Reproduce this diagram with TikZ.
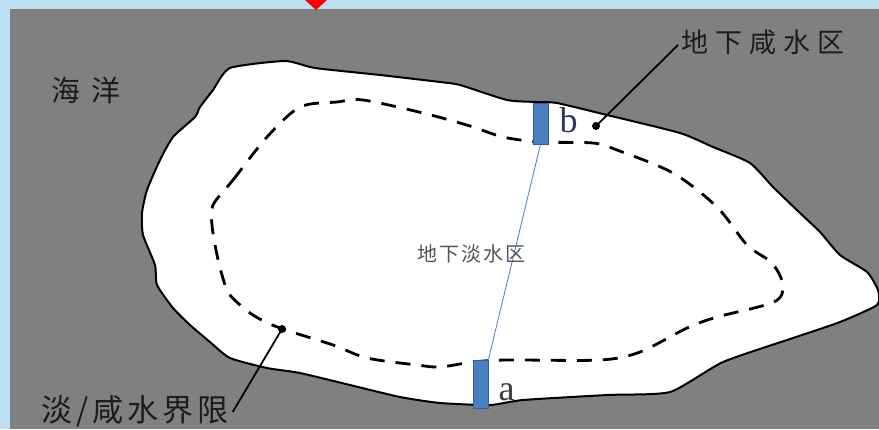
\documentclass[tikz,border=0pt]{standalone}
\usepackage{fontspec}
\setmainfont{Liberation Serif}
\newfontfamily\cjkfont{Noto Sans CJK SC}
\begin{document}
\begin{tikzpicture}[x=1pt,y=-1pt,
  coast/.style={line width=2pt, fill=white, line join=round},
  boundary/.style={line width=2.8pt, dash pattern=on 15pt off 11pt},
  wellbox/.style={draw=welledge, fill=wellblue, line width=0.8pt, minimum width=15pt, inner sep=0pt},
  dotmark/.style={circle, fill=black, inner sep=0pt, minimum size=8pt},
  cjklabel/.style={inner sep=0pt, anchor=west},
  wellname/.style={inner sep=0pt, anchor=base west, font=\fontsize{36}{36}\selectfont},
  leader/.style={line width=1.8pt}]
\definecolor{frameblue}{RGB}{189,224,243}
\definecolor{sea}{RGB}{128,128,128}
\definecolor{wellblue}{RGB}{74,126,193}
\definecolor{welledge}{RGB}{52,96,160}
\definecolor{labeldark}{RGB}{28,28,28}
\useasboundingbox (0,0) rectangle (879,429);
% frame and sea
\fill[frameblue] (0,0) rectangle (879,429);
\fill[sea] (10,9) rectangle (879,429);
\fill[red] (305,0) -- (327,0) -- (316,10) -- cycle;
% island coastline
\draw[coast] plot[smooth cycle, tension=0.35] coordinates {
  (230,68) (285,61) (315,68) (380,75) (440,82) (460,85) (507,100) (537,102)
  (557,103) (607,115) (680,133) (713,147) (750,163) (773,187) (800,213)
  (820,232) (840,255) (867,272) (878,290) (877,305) (840,322) (793,338)
  (723,362) (670,392) (607,395) (523,400) (490,405) (440,403) (400,397)
  (350,385) (300,373) (267,368) (230,358) (210,342) (190,325) (173,308)
  (157,285) (155,265) (143,235) (142,213) (147,190) (160,160) (173,137)
  (195,117) (200,107) (213,90)};
% fresh / salt water boundary
\draw[boundary] plot[smooth cycle, tension=0.5] coordinates {
  (213,205) (233,180) (267,137) (300,107) (337,102) (363,100) (423,113)
  (470,126) (503,137) (540,142) (593,143) (617,150) (673,173) (717,207)
  (747,245) (772,263) (783,285) (774,302) (717,317) (687,328) (640,352)
  (600,360) (507,360) (473,362) (440,367) (417,365) (367,358) (333,345)
  (280,328) (253,315) (230,295) (222,275) (216,250) (212,225)};
% wells and section line
\node[wellbox, minimum height=41pt] (wb) at (540.5,123.5) {};
\node[wellbox, minimum height=48pt] (wa) at (480.5,384) {};
\draw[wellblue, line width=0.8pt] (wb.south) -- (wa.north east);
\node[wellname, text={rgb,255:red,45;green,55;blue,90}] (lbb) at (559.5,132) {b};
\node[wellname, text={rgb,255:red,60;green,60;blue,60}] (lba) at (498.5,400) {a};
% labels
\node[cjklabel, text=labeldark, font={\cjkfont\fontsize{29}{29}\selectfont\addfontfeature{LetterSpace=40}}] (sealbl) at (51,90) {海洋};
\node[cjklabel, text=labeldark, font={\cjkfont\fontsize{27}{27}\selectfont\addfontfeature{LetterSpace=26}}] (salt) at (681,42) {地下咸水区};
\node[cjklabel, text={rgb,255:red,85;green,85;blue,85}, font={\cjkfont\fontsize{20}{20}\selectfont\addfontfeature{LetterSpace=10}}] (fresh) at (417,254) {地下淡水区};
\node[cjklabel, text=labeldark, font={\cjkfont\fontsize{31}{31}\selectfont\addfontfeature{LetterSpace=13}}] (limit) at (41,411) {淡/咸水界限};
% leaders
\node[dotmark] (db) at (596,126) {};
\node[dotmark] (dl) at (282,329) {};
\draw[leader] (db.center) -- ([shift={(-3,3)}]salt.west);
\draw[leader] (dl.center) -- ([shift={(4,1)}]limit.east);
\end{tikzpicture}
\end{document}
